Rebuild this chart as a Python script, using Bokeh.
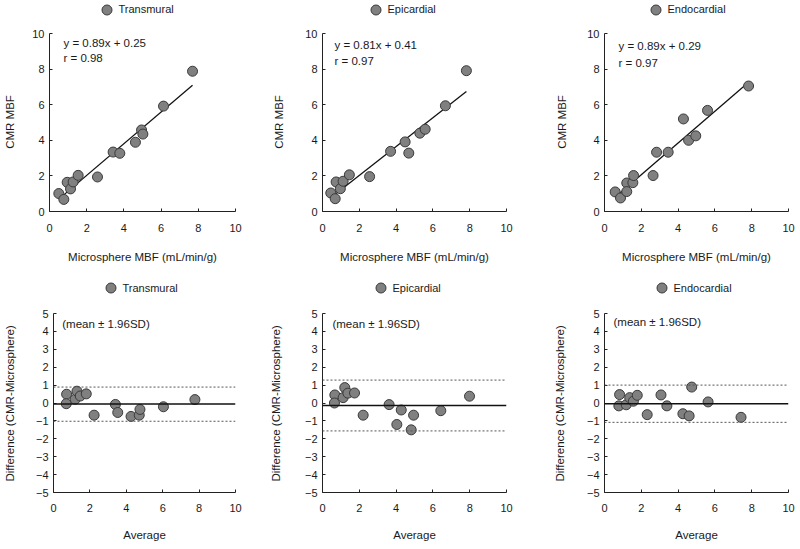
from bokeh.plotting import figure
from bokeh.layouts import column, row
from bokeh.models import (Range1d, FixedTicker, Span, Label, Legend, LegendItem)
from bokeh.embed import file_html
from bokeh.resources import INLINE

# ---------------- data ----------------
names = ["Transmural", "Epicardial", "Endocardial"]

# correlation panels: microsphere MBF (x) vs CMR MBF (y)
trans_x = [0.50, 0.77, 0.95, 1.13, 1.27, 1.54, 2.58, 3.42, 3.78, 4.62, 4.95, 5.02, 6.13, 7.69]
trans_y = [1.01, 0.68, 1.64, 1.27, 1.66, 2.03, 1.94, 3.34, 3.27, 3.89, 4.58, 4.35, 5.92, 7.88]
epi_x = [0.45, 0.69, 0.74, 0.97, 1.12, 1.46, 2.56, 3.70, 4.49, 4.69, 5.29, 5.58, 6.68, 7.82]
epi_y = [1.04, 0.72, 1.66, 1.28, 1.70, 2.06, 1.96, 3.38, 3.91, 3.28, 4.40, 4.62, 5.94, 7.91]
endo_x = [0.58, 0.87, 1.21, 1.21, 1.54, 1.58, 2.64, 2.83, 3.46, 4.29, 4.57, 4.96, 5.60, 7.83]
endo_y = [1.10, 0.76, 1.60, 1.12, 1.62, 2.02, 2.02, 3.33, 3.33, 5.20, 4.00, 4.25, 5.68, 7.05]

slopes = [0.89, 0.81, 0.89]
intercepts = [0.25, 0.41, 0.29]
eq_labels = ["y = 0.89x + 0.25", "y = 0.81x + 0.41", "y = 0.89x + 0.29"]
r_labels = ["r = 0.98", "r = 0.97", "r = 0.97"]

# Bland-Altman panels: average vs difference (CMR - microsphere)
trans_avg = [0.72, 0.70, 1.19, 1.29, 1.47, 1.80, 2.23, 3.40, 3.53, 4.26, 4.71, 4.75, 6.04, 7.77]
trans_diff = [0.49, -0.04, 0.21, 0.66, 0.39, 0.51, -0.68, -0.08, -0.53, -0.75, -0.68, -0.36, -0.21, 0.19]
epi_avg = [0.67, 0.65, 1.12, 1.21, 1.38, 1.74, 2.21, 3.62, 4.04, 4.28, 4.82, 4.95, 6.43, 7.99]
epi_diff = [0.45, 0.00, 0.30, 0.86, 0.55, 0.56, -0.68, -0.09, -1.20, -0.39, -1.50, -0.68, -0.43, 0.38]
endo_avg = [0.82, 0.78, 1.18, 1.37, 1.57, 1.78, 2.32, 3.07, 3.39, 4.26, 4.60, 4.74, 5.63, 7.42]
endo_diff = [0.47, -0.16, -0.10, 0.30, 0.10, 0.43, -0.65, 0.45, -0.16, -0.60, -0.72, 0.89, 0.06, -0.80]

ba_mean = [-0.06, -0.14, -0.04]
ba_upper = [0.89, 1.28, 1.00]
ba_lower = [-1.02, -1.56, -1.08]
ba_note = "(mean \u00b1 1.96SD)"

corr_ticks = [0, 2, 4, 6, 8, 10]
ba_yticks = [-5, -4, -3, -2, -1, 0, 1, 2, 3, 4, 5]

FONT = "Liberation Sans"
TXT = "#1a1a1a"
FILL = "#808080"
EDGE = "#3a3a3a"
NBSP = "\u00a0"

# ---------------- layout (pixels) ----------------
col_w = [258, 272, 268]
col_left = [49, 64, 74]
col_right = [23, 24, 10]
row_h = [269, 278]
row_bottom = [58, 55]
# pixel distance, inside each frame, from frame bottom to the top tick
axis_px = [178, 179]
# padding that lowers the (frame-centred) y-axis title to the middle of the axis
title_pad = [10, 14]

top_opts = [
    dict(ls=13, leg=(44.5, 189.5), tx=0.75, ty=(9.44, 8.65)),
    dict(ls=17, leg=(40.5, 189.5), tx=0.65, ty=(9.33, 8.43)),
    dict(ls=16, leg=(38.5, 189.5), tx=0.76, ty=(9.27, 8.37)),
]
bot_opts = [
    dict(ls=17, leg=(44.5, 192), tx=0.48, ty=4.44),
    dict(ls=20, leg=(45.5, 192), tx=0.54, ty=4.44),
    dict(ls=18, leg=(44.5, 192), tx=0.49, ty=4.50),
]


def base_fig(ci, ri, lo, hi, yticks, xlabel, ylabel, ls, bls, bts):
    frame_h = row_h[ri] - row_bottom[ri]
    top_val = lo + (hi - lo) * frame_h / axis_px[ri]
    p = figure(width=col_w[ci], height=row_h[ri], output_backend="svg", toolbar_location=None,
               x_range=Range1d(0, 10), y_range=Range1d(lo, top_val),
               min_border_left=col_left[ci], min_border_right=col_right[ci],
               min_border_top=0, min_border_bottom=row_bottom[ri])
    p.outline_line_color = None
    p.grid.visible = False
    p.xaxis.ticker = FixedTicker(ticks=corr_ticks)
    p.yaxis.ticker = FixedTicker(ticks=yticks)
    p.yaxis.bounds = (lo, hi)
    for ax in (p.xaxis[0], p.yaxis[0]):
        ax.axis_line_color = "#222222"
        ax.axis_line_width = 1
        ax.major_tick_line_color = "#222222"
        ax.major_tick_in = 3
        ax.major_tick_out = 0
        ax.minor_tick_line_color = None
        ax.major_label_text_font = FONT
        ax.major_label_text_font_size = "11px"
        ax.major_label_text_color = TXT
        ax.axis_label_text_font = FONT
        ax.axis_label_text_font_size = "11.5px"
        ax.axis_label_text_font_style = "normal"
        ax.axis_label_text_color = TXT
    p.xaxis.axis_label = xlabel
    p.yaxis.axis_label = ylabel + NBSP * title_pad[ri]
    p.yaxis.major_label_standoff = 5
    p.yaxis.axis_label_standoff = ls
    p.xaxis.major_label_standoff = bls
    p.xaxis.axis_label_standoff = bts
    return p


def add_legend(p, rend, name, loc):
    leg = Legend(items=[LegendItem(label=name, renderers=[rend])], location=loc,
                 orientation="horizontal", margin=0, padding=0, spacing=0,
                 glyph_width=25, glyph_height=25, label_height=25, label_standoff=0,
                 label_text_font=FONT, label_text_font_size="11px", label_text_color=TXT,
                 border_line_color=None, background_fill_alpha=0)
    p.add_layout(leg)


corr_sets = [(trans_x, trans_y), (epi_x, epi_y), (endo_x, endo_y)]
ba_sets = [(trans_avg, trans_diff), (epi_avg, epi_diff), (endo_avg, endo_diff)]

top_figs = []
for i, (xs, ys) in enumerate(corr_sets):
    o = top_opts[i]
    p = base_fig(i, 0, 0, 10, corr_ticks, "Microsphere MBF (mL/min/g)", "CMR MBF",
                 o["ls"], 12, 16)
    lx = [min(xs), max(xs)]
    ly = [slopes[i] * v + intercepts[i] for v in lx]
    p.line(lx, ly, line_color="#111111", line_width=1.3)
    r = p.scatter(xs, ys, size=10, fill_color=FILL, line_color=EDGE, line_width=1)
    add_legend(p, r, names[i], o["leg"])
    for txt, yy in zip((eq_labels[i], r_labels[i]), o["ty"]):
        p.add_layout(Label(x=o["tx"], y=yy, text=txt, text_baseline="middle",
                           text_font=FONT, text_font_size="11.5px", text_color=TXT))
    top_figs.append(p)

bot_figs = []
for i, (xs, ys) in enumerate(ba_sets):
    o = bot_opts[i]
    p = base_fig(i, 1, -5, 5, ba_yticks, "Average", "Difference (CMR-Microsphere)",
                 o["ls"], 11, 14)
    p.add_layout(Span(location=ba_upper[i], dimension="width", line_color="#555555",
                      line_width=1, line_dash="2 2"))
    p.add_layout(Span(location=ba_lower[i], dimension="width", line_color="#555555",
                      line_width=1, line_dash="2 2"))
    p.add_layout(Span(location=ba_mean[i], dimension="width", line_color="#111111",
                      line_width=1.6))
    r = p.scatter(xs, ys, size=10, fill_color=FILL, line_color=EDGE, line_width=1)
    add_legend(p, r, names[i], o["leg"])
    p.add_layout(Label(x=o["tx"], y=o["ty"], text=ba_note, text_baseline="middle",
                       text_font=FONT, text_font_size="11.5px", text_color=TXT))
    bot_figs.append(p)

layout = column(row(*top_figs, spacing=0), row(*bot_figs, spacing=0), spacing=0)

open("out.html", "w").write(file_html(layout, INLINE))
